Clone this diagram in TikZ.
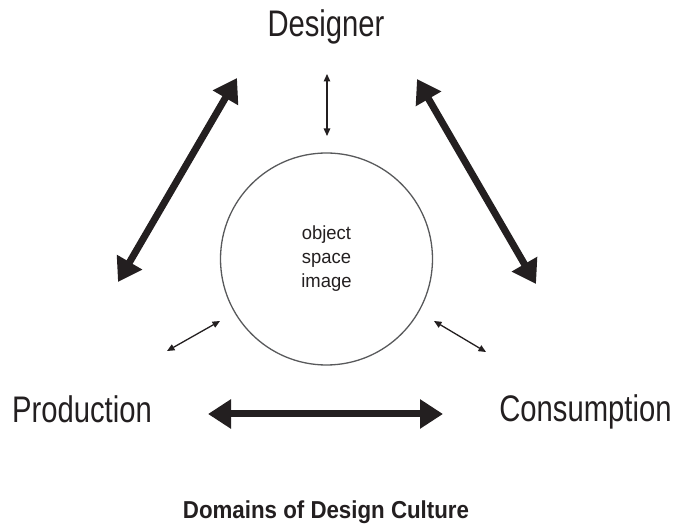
\documentclass[tikz,border=0pt]{standalone}
\usepackage{fontspec}
\usetikzlibrary{arrows.meta}
\setmainfont{Liberation Sans}
\newfontfamily\condfont[FakeStretch=0.79]{Liberation Sans}
\newfontfamily\smallfont[FakeStretch=0.97]{Liberation Sans}
\newfontfamily\titlefont[FakeStretch=0.91]{Liberation Sans Bold}
\definecolor{ink}{RGB}{35,31,32}
\definecolor{ringgrey}{RGB}{88,89,91}
\tikzset{
  bigarrow/.style={draw=ink, line width=7pt, {Triangle[length=23pt,width=28pt]}-{Triangle[length=23pt,width=28pt]}},
  smallarrow/.style={draw=ink, line width=1.3pt, {Triangle[length=7.5pt,width=6.5pt]}-{Triangle[length=7.5pt,width=6.5pt]}},
  domainlabel/.style={text=ink, inner sep=0pt, anchor=base, font=\condfont\fontsize{37}{40}\selectfont},
  ringnode/.style={circle, draw=ringgrey, line width=1.3pt, minimum size=212pt, inner sep=0pt, align=center, text=ink, font=\smallfont\fontsize{19}{24}\selectfont},
  titlelabel/.style={text=ink, inner sep=0pt, anchor=base, font=\titlefont\fontsize{24.5}{28}\selectfont}
}
\begin{document}
\begin{tikzpicture}[x=1pt,y=-1pt]
\useasboundingbox (0,0) rectangle (681,526);
\node[domainlabel] (designer) at (326,37) {Designer};
\node[domainlabel] (production) at (82,423) {Production};
\node[domainlabel] (consumption) at (585.5,422) {Consumption};
\node[ringnode] (obj) at (326.5,259) {object\\space\\image};
\node[titlelabel] (title) at (326,519) {Domains of Design Culture};
% thick arrow end points
\coordinate (pl) at (118,282);
\coordinate (dl) at (237,78);
\coordinate (dr) at (417,79);
\coordinate (cr) at (536,284);
\coordinate (pb) at (208,414);
\coordinate (cb) at (443,414);
% small arrow end points
\coordinate (dt) at (327,74);
\coordinate (ot) at (327,136);
\coordinate (ps) at (167,351);
\coordinate (ol) at (220,321);
\coordinate (orr) at (434,321);
\coordinate (cs) at (486,352);
\draw[bigarrow] (pl) -- (dl);
\draw[bigarrow] (dr) -- (cr);
\draw[bigarrow] (pb) -- (cb);
\draw[smallarrow] (dt) -- (ot);
\draw[smallarrow] (ps) -- (ol);
\draw[smallarrow] (orr) -- (cs);
\end{tikzpicture}
\end{document}
